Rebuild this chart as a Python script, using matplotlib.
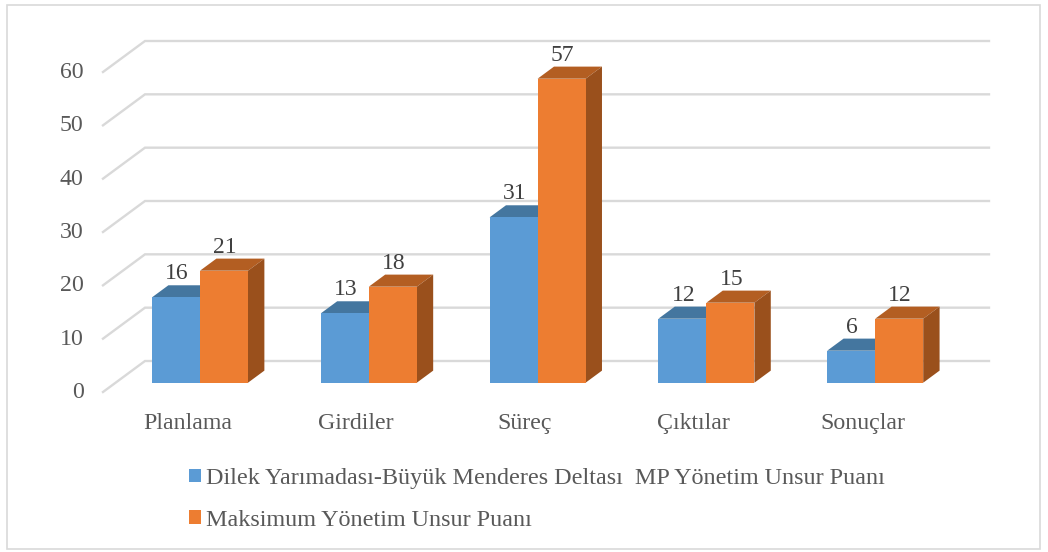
import matplotlib
matplotlib.use("Agg")
import matplotlib.pyplot as plt
from matplotlib.patches import Patch, Polygon, Rectangle
from matplotlib.transforms import ScaledTranslation

categories = ["Planlama", "Girdiler", "Süreç", "Çıktılar", "Sonuçlar"]
series_a = [16, 13, 31, 12, 6]
series_b = [21, 18, 57, 15, 12]
name_a = "Dilek Yarımadası-Büyük Menderes Deltası  MP Yönetim Unsur Puanı"
name_b = "Maksimum Yönetim Unsur Puanı"
y_ticks = [0, 10, 20, 30, 40, 50, 60]

W, H = 1048, 552
plt.rcParams["font.family"] = ["Liberation Serif", "DejaVu Serif"]
fig = plt.figure(figsize=(W / 100, H / 100), dpi=100, facecolor="white")
fig.add_artist(Rectangle((7 / W, 1 - 549 / H), (1040 - 7) / W, (549 - 5) / H,
                         transform=fig.transFigure, fill=False, ec="#D9D9D9", lw=1.2))

ax = fig.add_axes([103 / W, 1 - 392 / H, 844 / W, 320 / H])
ax.set_xlim(-0.5, 4.5)
ax.set_ylim(0, 60)
for s in ax.spines.values():
    s.set_visible(False)
ax.patch.set_visible(False)

# oblique projection of the 3D depth, in data units
PX_X = 5 / 844
PX_Y = 60 / 320
WALL_DX, WALL_DY = 42 * PX_X, 31 * PX_Y
def proj(x, v, d):
    return (x + d * WALL_DX, v + d * WALL_DY)

GRID = "#D9D9D9"
for v in y_ticks:
    a = proj(-0.5, v, 0)
    b = proj(-0.5, v, 1)
    c = proj(4.5, v, 1)
    ax.plot([a[0], b[0], c[0]], [a[1], b[1], c[1]], color=GRID, lw=1.7,
            clip_on=False, zorder=1, solid_joinstyle="miter")

D0, D1 = 0.30, 0.69
BW = 48 * PX_X

def bar(x0, x1, v, front, top, side=None):
    z = 3
    ax.add_patch(Polygon([proj(x0, 0, D0), proj(x1, 0, D0), proj(x1, v, D0), proj(x0, v, D0)],
                         fc=front, ec="none", zorder=z + 1, clip_on=False))
    ax.add_patch(Polygon([proj(x0, v, D0), proj(x1, v, D0), proj(x1, v, D1), proj(x0, v, D1)],
                         fc=top, ec="none", zorder=z, clip_on=False))
    if side:
        ax.add_patch(Polygon([proj(x1, 0, D0), proj(x1, v, D0), proj(x1, v, D1), proj(x1, 0, D1)],
                             fc=side, ec="none", zorder=z, clip_on=False))

for i in range(len(categories)):
    bar(i - BW, i, series_a[i], "#5B9BD5", "#44769F")
    bar(i, i + BW, series_b[i], "#ED7D31", "#B35E22", "#9A501C")
    for x, v in ((i - BW / 2, series_a[i]), (i + BW / 2, series_b[i])):
        ax.annotate(str(v), proj(x + PX_X, v, D0), xytext=(0, 23.5 * 0.72), textcoords="offset points",
                    ha="center", va="center", fontsize=17, color="#404040", zorder=6,
                    annotation_clip=False)

ax.set_xticks(range(len(categories)), categories)
ax.set_yticks(y_ticks)
ax.tick_params(axis="both", length=0, labelsize=17.2, labelcolor="#595959")
ax.tick_params(axis="x", pad=15)
ax.tick_params(axis="y", pad=14)
up = ScaledTranslation(0, 2 / 100, fig.dpi_scale_trans)
for lab in ax.get_yticklabels():
    lab.set_transform(lab.get_transform() + up)

handles = [Patch(fc="#5B9BD5", ec="none"), Patch(fc="#ED7D31", ec="none")]
fig.legend(handles, [name_a, name_b], loc="upper left", bbox_to_anchor=(189 / W, 1 - 468 / H),
           bbox_transform=fig.transFigure, frameon=False, fontsize=17.4, labelcolor="#595959",
           borderpad=0, borderaxespad=0, handlelength=0.5, handleheight=0.5,
           handletextpad=0.21, labelspacing=0.86)

fig.savefig("out.png", dpi=100)
